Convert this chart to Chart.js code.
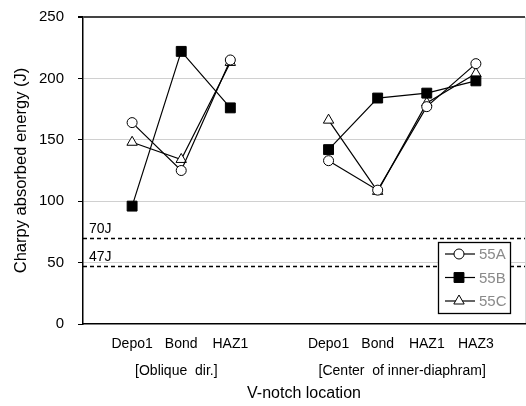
<!DOCTYPE html>
<html>
<head>
<meta charset="utf-8">
<script src="https://cdn.jsdelivr.net/npm/chart.js@4.4.0/dist/chart.umd.min.js"></script>
<style>
  html, body { margin: 0; padding: 0; background: #fff; }
  #wrap { width: 526px; height: 406px; }
</style>
</head>
<body>
<div id="wrap"><canvas id="chart" width="526" height="406"></canvas></div>
<script>
const categories = ["", "Depo1", "Bond", "HAZ1", "", "Depo1", "Bond", "HAZ1", "HAZ3", ""];
const yTicks = [0, 50, 100, 150, 200, 250];
const series55A = [null, 164, 125, 215, null, 133, 109, 177, 212, null];
const series55B = [null, 96, 222, 176, null, 142, 184, 188, 198, null];
const series55C = [null, 148, 134, 213, null, 166, 108, 180, 204, null];
const thresholds = [70, 47];
const thresholdLabels = ["70J", "47J"];
const groupLabels = ["[Oblique  dir.]", "[Center  of inner-diaphram]"];
const groupCenters = [1.9, 6.5];

const FONT = "'Liberation Sans', Arial, sans-serif";

// lignes pointillées 70J / 47J + libellés des groupes
const extras = {
  id: "extras",
  beforeDatasetsDraw(chart) {
    const { ctx, chartArea } = chart;
    const y = chart.scales.y;
    ctx.save();
    ctx.strokeStyle = "#000";
    ctx.lineWidth = 1.3;
    ctx.setLineDash([4, 3]);
    ctx.font = "14px " + FONT;
    ctx.fillStyle = "#000";
    ctx.textBaseline = "bottom";
    thresholds.forEach((t, i) => {
      const py = Math.round(y.getPixelForValue(t)) + 0.5;
      ctx.beginPath();
      ctx.moveTo(chartArea.left, py);
      ctx.lineTo(chartArea.right, py);
      ctx.stroke();
      ctx.fillText(thresholdLabels[i], chartArea.left + 6, py - 2);
    });
    ctx.restore();
  },
  afterDraw(chart) {
    const { ctx } = chart;
    const x = chart.scales.x;
    ctx.save();
    ctx.font = "14px " + FONT;
    ctx.fillStyle = "#000";
    ctx.textAlign = "center";
    ctx.textBaseline = "middle";
    groupLabels.forEach((g, i) => {
      const left = x.getPixelForValue(Math.floor(groupCenters[i]));
      const right = x.getPixelForValue(Math.ceil(groupCenters[i]));
      const frac = groupCenters[i] - Math.floor(groupCenters[i]);
      ctx.fillText(g, left + (right - left) * frac, 371);
    });

    // légende
    const bx = 438, by = 242, bw = 72, bh = 71;
    ctx.fillStyle = "#fff";
    ctx.fillRect(bx, by, bw, bh);
    ctx.strokeStyle = "#000";
    ctx.lineWidth = 1.3;
    ctx.strokeRect(bx + 0.5, by + 0.5, bw, bh);
    ctx.font = "15px " + FONT;
    chart.data.datasets.forEach((ds, i) => {
      const ly = by + 12 + i * 23.5;
      ctx.strokeStyle = "#000";
      ctx.lineWidth = 1.2;
      ctx.beginPath();
      ctx.moveTo(bx + 7, ly);
      ctx.lineTo(bx + 37, ly);
      ctx.stroke();
      ctx.fillStyle = ds.pointBackgroundColor;
      ctx.strokeStyle = "#000";
      ctx.lineWidth = 1;
      Chart.helpers.drawPoint(ctx, { pointStyle: ds.pointStyle, radius: ds.pointRadius, rotation: 0, borderWidth: 1 }, bx + 21, ly);
      ctx.fillStyle = "#8a8a8a";
      ctx.textAlign = "left";
      ctx.fillText(ds.label, bx + 41, ly + 1);
    });
    ctx.restore();
  }
};

function makeSet(label, data, style, fill, radius) {
  return {
    label: label,
    data: data,
    borderColor: "#000",
    borderWidth: 1.2,
    pointStyle: style,
    pointRadius: radius,
    pointHoverRadius: radius,
    pointBackgroundColor: fill,
    pointBorderColor: "#000",
    pointBorderWidth: 1,
    spanGaps: false,
    tension: 0
  };
}

new Chart(document.getElementById("chart"), {
  type: "line",
  data: {
    labels: categories,
    datasets: [
      makeSet("55A", series55A, "circle", "#fff", 5),
      makeSet("55B", series55B, "rect", "#000", 7),
      makeSet("55C", series55C, "triangle", "#fff", 6)
    ]
  },
  options: {
    responsive: false,
    animation: false,
    layout: { autoPadding: false, padding: { top: 17, right: 1, left: 0, bottom: 0 } },
    plugins: {
      legend: { display: false },
      tooltip: { enabled: false }
    },
    scales: {
      x: {
        type: "category",
        offset: false,
        afterFit: s => { s.height = 82; s.paddingLeft = 0; s.paddingRight = 0; },
        grid: {
          drawTicks: false,
          color: c => (c.index === categories.length - 1 ? "#d8d8d8" : "transparent")
        },
        border: { color: "#000", width: 1.5 },
        ticks: {
          padding: 12,
          autoSkip: false,
          maxRotation: 0,
          color: "#000",
          font: { family: FONT, size: 14 }
        },
        title: {
          display: true,
          text: "V-notch location",
          color: "#000",
          font: { family: FONT, size: 16 },
          padding: { top: 0, bottom: 3 }
        }
      },
      y: {
        min: 0,
        max: 250,
        afterFit: s => { s.width = 83; s.paddingTop = 0; s.paddingBottom = 0; },
        afterBuildTicks: s => { s.ticks = yTicks.map(v => ({ value: v })); },
        grid: {
          tickLength: 5,
          tickColor: "#000",
          color: c => (c.tick && c.tick.value === 250 ? "#444" : c.tick && c.tick.value === 0 ? "transparent" : "#d0d0d0"),
          lineWidth: c => (c.tick && c.tick.value === 250 ? 2 : 1)
        },
        border: { color: "#000", width: 1.5 },
        ticks: {
          padding: 14,
          color: "#000",
          font: { family: FONT, size: 15 }
        },
        title: {
          display: true,
          text: "Charpy absorbed energy (J)",
          color: "#000",
          font: { family: FONT, size: 16.5 },
          padding: { top: 12, bottom: 0 }
        }
      }
    }
  },
  plugins: [extras]
});
</script>
</body>
</html>
